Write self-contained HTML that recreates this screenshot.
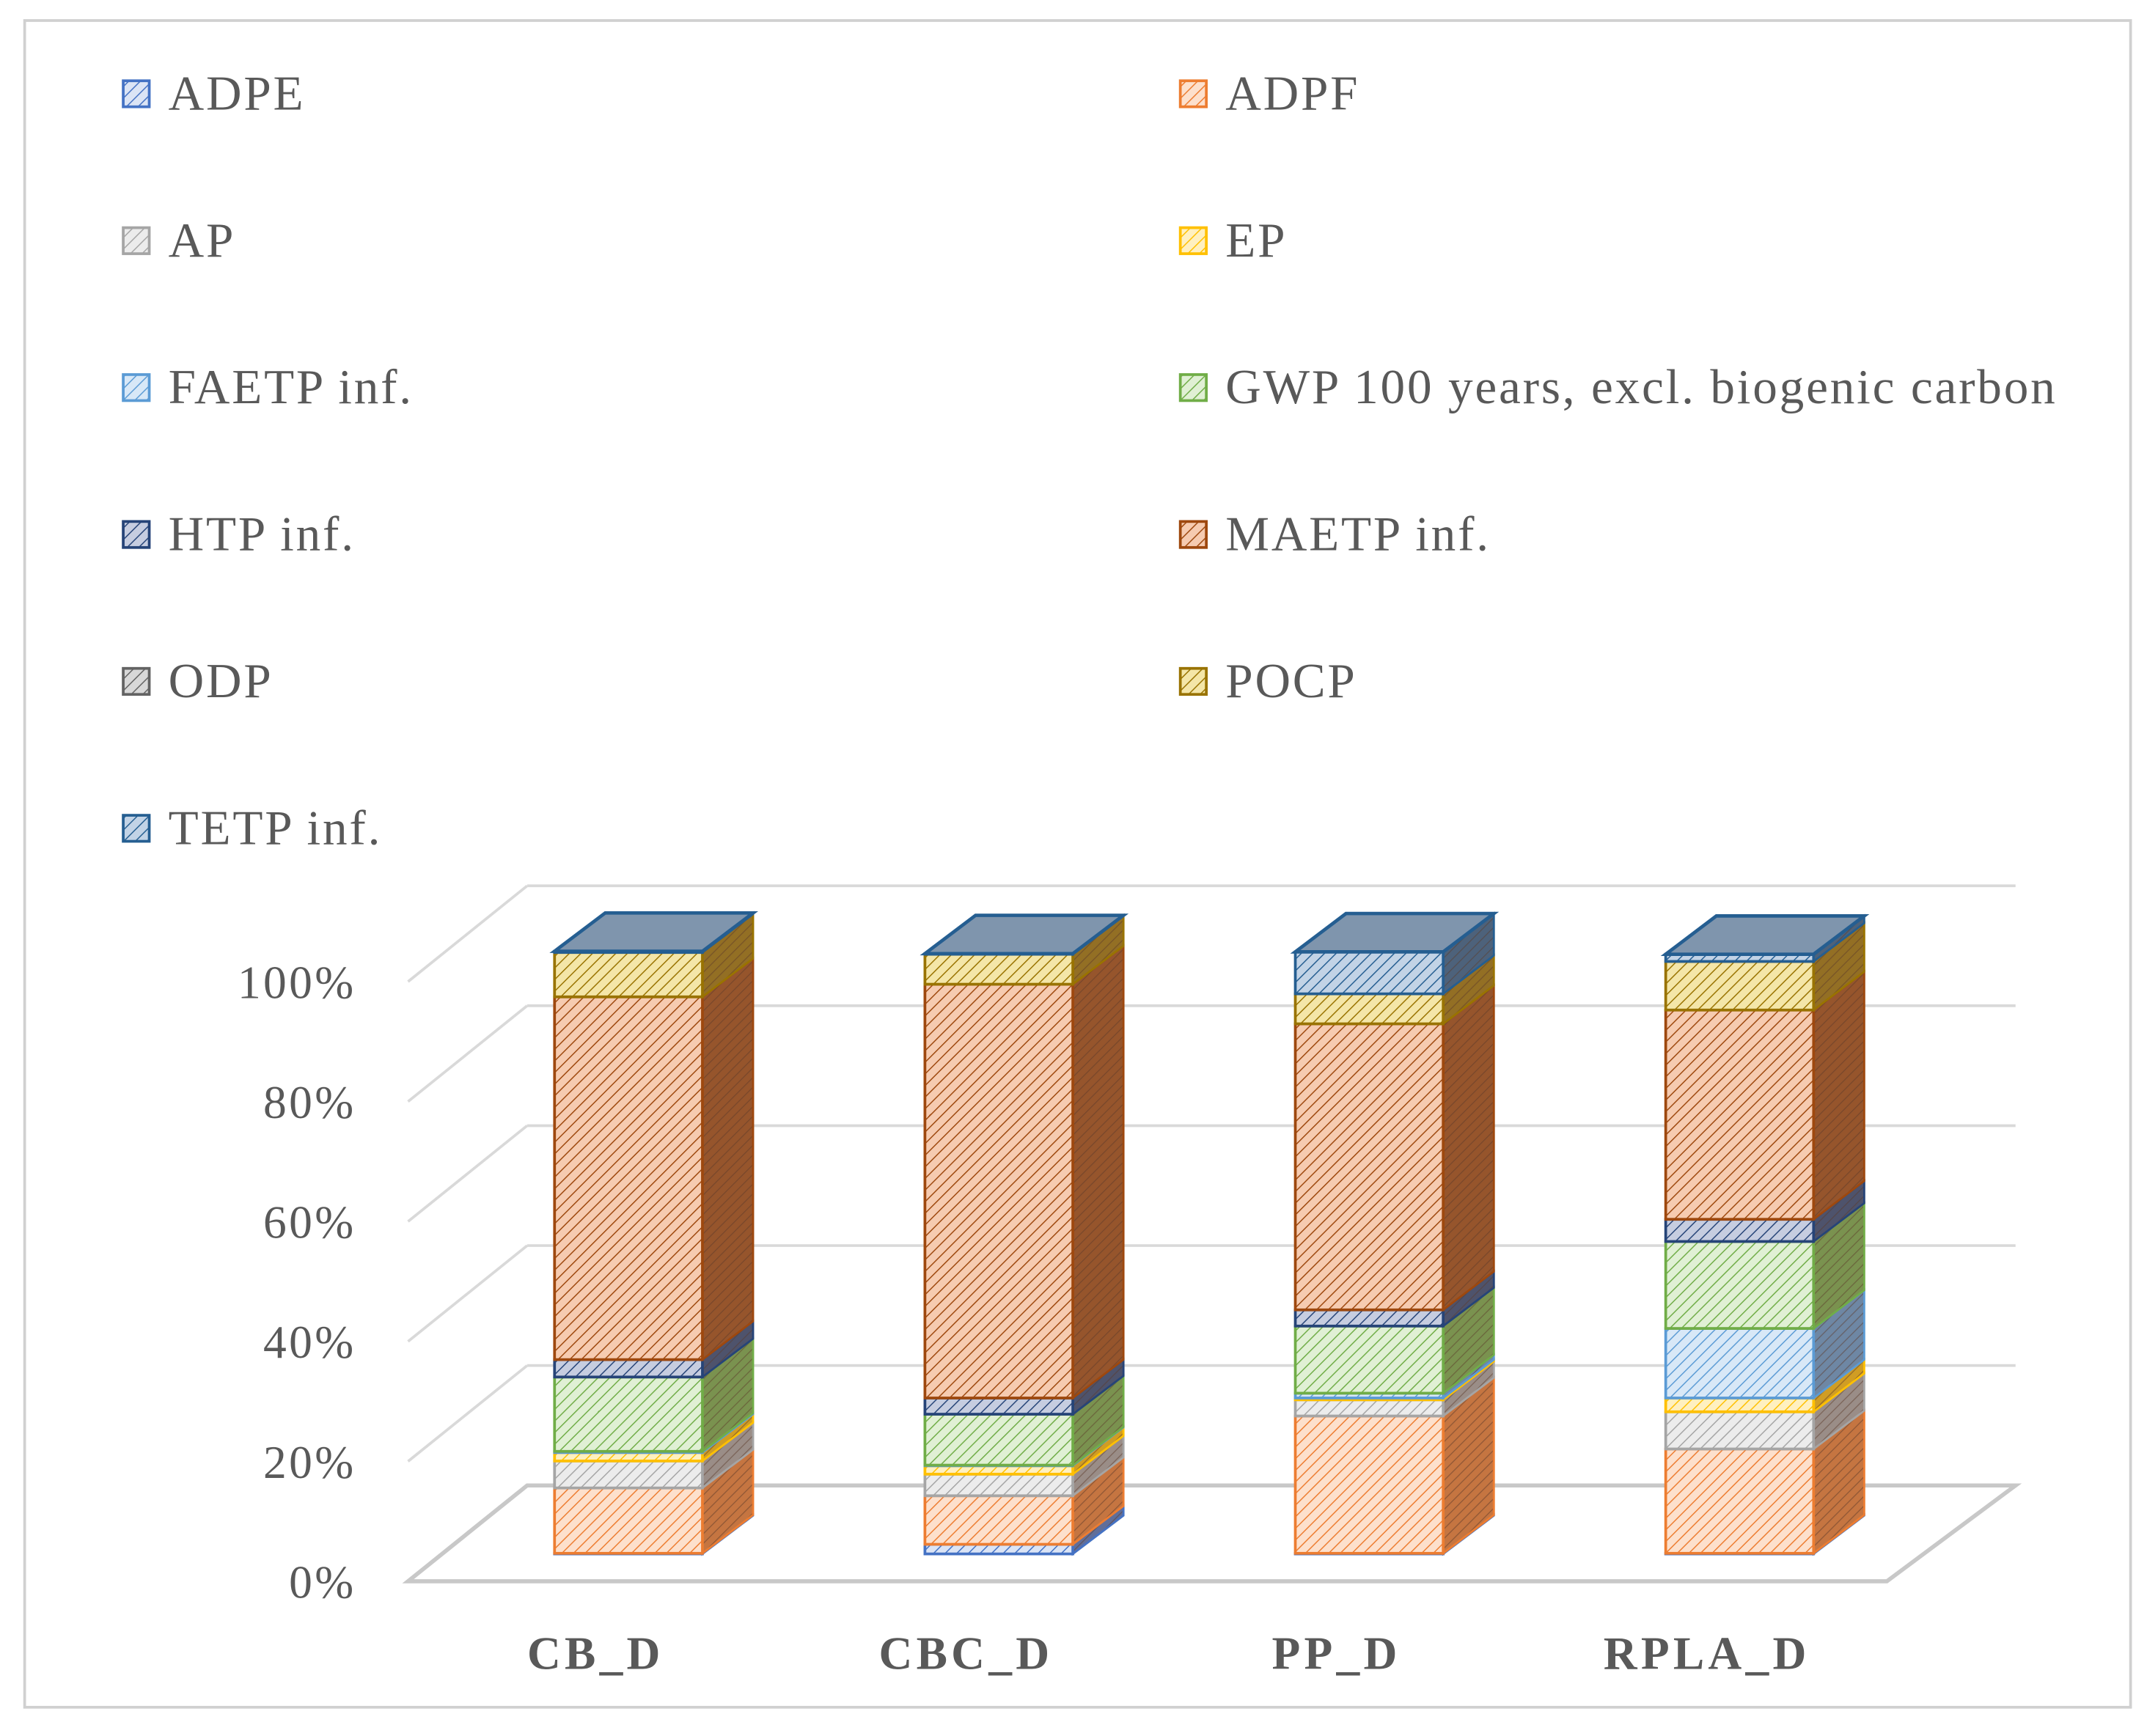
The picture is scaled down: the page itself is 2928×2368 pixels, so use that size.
<!DOCTYPE html>
<html><head><meta charset="utf-8"><style>
html,body{margin:0;padding:0;background:#fff;}
svg{display:block;}
text{font-family:"Liberation Serif",serif;fill:#595959;}
</style></head>
<body>
<svg id="chart" width="2928" height="2368" viewBox="0 0 1568 1268" preserveAspectRatio="none" xmlns="http://www.w3.org/2000/svg">
<defs id="defs"></defs>
<rect x="18" y="15" width="1538" height="1232" fill="#fff" stroke="#d0d0d0" stroke-width="2"/>
<g id="grid"></g>
<g id="bars"></g>
<g id="axis"></g>
<g id="xaxis"></g>
<g id="legend"></g>
</svg>
<script>
const categories = ["CB_D","CBC_D","PP_D","RPLA_D"];
const seriesNames = ["ADPE","ADPF","AP","EP","FAETP inf.","GWP 100 years, excl. biogenic carbon","HTP inf.","MAETP inf.","ODP","POCP","TETP inf."];
const adpe  = [0.1, 1.6, 0.1, 0.1];
const adpf  = [10.9, 8.1, 22.9, 17.4];
const ap    = [4.5, 3.6, 2.7, 6.2];
const ep    = [1.4, 1.4, 0.3, 2.3];
const faetp = [0.2, 0.1, 0.8, 11.6];
const gwp   = [12.4, 8.5, 11.2, 14.5];
const htp   = [2.9, 2.7, 2.7, 3.7];
const maetp = [60.5, 69.0, 47.7, 34.9];
const odp   = [0.0, 0.0, 0.0, 0.0];
const pocp  = [7.4, 5.0, 5.0, 8.1];
const tetp  = [0.2, 0.1, 7.0, 1.2];
const yTicks = ["0%","20%","40%","60%","80%","100%"];
const seriesValues = [adpe,adpf,ap,ep,faetp,gwp,htp,maetp,odp,pocp,tetp];
const colors = ["#4472C4","#ED7D31","#A5A5A5","#FFC000","#5B9BD5","#70AD47","#264478","#9E480E","#636363","#997300","#255E91"];
const tints  = ["#dbe4f5","#fde0cc","#ececec","#fff0c0","#d8e8f7","#e0f0d4","#c6cde0","#f6cbb0","#d8d8d8","#f4e6a8","#c2d3e6"];
const NS="http://www.w3.org/2000/svg";
function mk(tag,attrs,parent){const e=document.createElementNS(NS,tag);for(const k in attrs)e.setAttribute(k,attrs[k]);parent.appendChild(e);return e;}
const defs=document.getElementById('defs');
colors.forEach((c,i)=>{
  const p=mk('pattern',{id:'p'+i,width:6,height:6,patternUnits:'userSpaceOnUse',patternTransform:'rotate(45)'},defs);
  mk('rect',{width:6,height:6,fill:tints[i]},p);
  mk('line',{x1:0,y1:0,x2:0,y2:6,stroke:c,'stroke-width':1.6},p);
  const q=mk('pattern',{id:'s'+i,width:5,height:5,patternUnits:'userSpaceOnUse',patternTransform:'rotate(45)'},defs);
  mk('rect',{width:5,height:5,fill:'#8a6a5a'},q);
  mk('rect',{width:5,height:5,fill:c,opacity:0.6},q);
  mk('line',{x1:0,y1:0,x2:0,y2:5,stroke:'#5b3a2a','stroke-width':1.4,opacity:0.5},q);
});
const frontBase=1155, backBase=1085, unit=438/100, wallL=298, wallB=385, wallR=1472, floorR=1378;
const yBack=v=>backBase-v*unit;
const yFront=v=>frontBase-v*unit;
const grid=document.getElementById('grid');
yTicks.forEach((t,k)=>{
  const v=k*20, yb=yBack(v);
  if(k>0){
    const l1=mk('line',{x1:wallB,y1:yb,x2:wallR,y2:yb,stroke:'#d9d9d9','stroke-width':2},grid);
    
    
    const l2=mk('line',{x1:wallL,y1:yb+70,x2:wallB,y2:yb,stroke:'#d9d9d9','stroke-width':2},grid);
    
    
  }
});
const floor=mk('polygon',{points:`${wallL},${frontBase} ${floorR},${frontBase} ${wallR},${backBase} ${wallB},${backBase}`,fill:'none',stroke:'#c8c8c8','stroke-width':3},grid);


const axis=document.getElementById('axis');
yTicks.forEach((t,k)=>{
  const tx=mk('text',{x:260,y:yFront(k*20)+12,'text-anchor':'end','font-size':34,'letter-spacing':1.8},axis);
  tx.textContent=t;
  
  
});
const barBottom=1135, barUnit=438/100, barW=108, dx=37, dy=-28;
const barX=i=>405+i*270.5;
const bars=document.getElementById('bars');
categories.forEach((cat,ci)=>{
  const g=mk('g',{},bars);
  
  
  let cum=0; const x=barX(ci);
  seriesValues.forEach((arr,si)=>{
    const v=arr[ci]; if(v<=0) return;
    const yb=barBottom-cum*barUnit, yt=barBottom-(cum+v)*barUnit;
    cum+=v;
    const side=mk('polygon',{points:`${x+barW},${yt} ${x+barW+dx},${yt+dy} ${x+barW+dx},${yb+dy} ${x+barW},${yb}`,fill:`url(#s${si})`,stroke:colors[si],'stroke-width':1.5},g);
    
    
    const r=mk('rect',{x:x,y:yt,width:barW,height:yb-yt,fill:`url(#p${si})`,stroke:colors[si],'stroke-width':2},g);
    
    
  });
  const yt=barBottom-cum*barUnit;
  const top=mk('polygon',{points:`${x},${yt} ${x+dx},${yt+dy} ${x+barW+dx},${yt+dy} ${x+barW},${yt}`,fill:'#7f95ad',stroke:'#255E91','stroke-width':2.5},g);
  
  
});
const xaxis=document.getElementById('xaxis');
categories.forEach((cat,ci)=>{
  const t=mk('text',{x:barX(ci)+30,y:1219,'text-anchor':'middle','font-size':34,'font-weight':'bold','letter-spacing':2.8},xaxis);
  t.textContent=cat;
  
  
});
const legend=document.getElementById('legend');
seriesNames.forEach((n,i)=>{
  const col=i%2, row=Math.floor(i/2);
  const x=col?862:90, y=68+row*107.3;
  const g=mk('g',{},legend);
  
  
  const m=mk('rect',{x:x,y:y-9,width:19,height:19,fill:`url(#p${i})`,stroke:colors[i],'stroke-width':2},g);
  
  
  const t=mk('text',{x:x+33,y:y+12,'font-size':36,'letter-spacing':1.5},g);
  t.textContent=n;
  
  
});
</script>
</body></html>
